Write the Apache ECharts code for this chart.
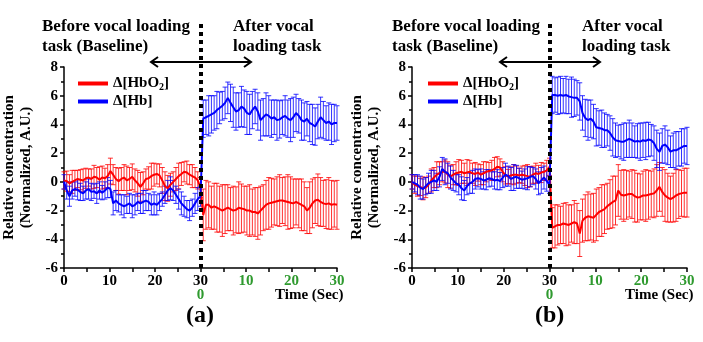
<!DOCTYPE html>
<html>
<head>
<meta charset="utf-8">
<script src="https://cdn.jsdelivr.net/npm/echarts@6/dist/echarts.min.js"></script>
<style>
  html, body { margin: 0; padding: 0; background: #ffffff; }
  #chart { width: 703px; height: 342px; }
</style>
</head>
<body>
<div id="chart"></div>
<script>
// Sampling step of the averaged NIRS traces (seconds); 101 samples span 0–60 s
const STEP = 0.6;

// Panel (a): mean relative concentration and standard error
const aHbO2 = [
  0.1, 0.05, -0.1, 0.0, 0.1, 0.2, 0.15, 0.1, 0.25, 0.3,
  0.2, 0.35, 0.3, 0.15, 0.3, 0.25, 0.4, 0.75, 0.5, 0.2,
  0.05, 0.2, 0.3, 0.1, 0.2, 0.35, 0.1, -0.1, -0.35, -0.1,
  0.2, 0.25, 0.4, 0.5, 0.55, 0.45, 0.1, -0.3, -0.45, -0.2,
  0.0, 0.2, 0.4, 0.55, 0.7, 0.65, 0.5, 0.4, 0.3, 0.1,
  -0.4,
  -2.3, -1.6, -1.6, -1.8, -1.7, -1.8, -1.9, -2.0, -1.9, -1.8,
  -1.9, -2.0, -1.95, -1.8, -1.85, -1.9, -2.0, -2.0, -2.1, -2.1,
  -2.2, -2.0, -1.8, -1.6, -1.5, -1.45, -1.4, -1.35, -1.3, -1.3,
  -1.35, -1.4, -1.45, -1.5, -1.4, -1.5, -1.6, -1.7, -2.0, -1.8,
  -1.5, -1.3, -1.25, -1.4, -1.5, -1.55, -1.5, -1.6, -1.55, -1.6];
const aHb = [
  0.0, -0.6, -1.0, -0.6, -0.5, -0.55, -0.7, -0.8, -0.6, -0.5,
  -0.7, -0.65, -0.8, -0.6, -0.75, -0.6, -0.4, -0.5, -1.5, -1.3,
  -1.5, -1.6, -1.7, -1.6, -1.5, -1.7, -1.6, -1.4, -1.5, -1.4,
  -1.3, -1.4, -1.6, -1.5, -1.6, -1.4, -1.2, -0.9, -0.6, -0.45,
  -0.6, -0.9, -1.2, -1.5, -1.7, -1.9, -2.0, -1.8, -1.5, -1.2,
  -1.0,
  4.4, 4.5, 4.6, 4.7, 4.8, 5.0, 5.15, 5.3, 5.5, 5.85,
  5.5, 5.2, 4.9, 5.0, 5.25, 5.1, 4.8, 4.7, 5.0, 5.25,
  4.9, 4.3, 4.5, 4.7, 4.6, 4.4, 4.5, 4.3, 4.35, 4.5,
  4.6, 4.4, 4.3, 4.5, 4.8, 4.6, 4.3, 4.2, 4.4, 4.1,
  4.0, 3.85, 4.2, 4.5, 4.3, 4.1, 4.2, 4.0, 4.1, 4.1];
const aHbO2Err = [
  0.6, 0.7, 0.6, 0.8, 0.7, 0.6, 0.7, 0.8, 0.7, 0.6,
  0.7, 0.8, 0.7, 0.9, 0.8, 0.7, 0.8, 0.9, 0.7, 0.8,
  0.9, 0.8, 0.9, 1.0, 0.8, 0.9, 0.8, 0.9, 1.0, 0.8,
  0.7, 0.8, 0.9, 0.8, 0.7, 0.8, 0.9, 1.0, 0.9, 0.8,
  0.7, 0.8, 0.9, 0.8, 0.7, 0.8, 0.7, 0.8, 0.7, 0.6,
  0.7,
  1.8, 1.7, 1.6, 1.5, 1.6, 1.7, 1.6, 1.8, 1.7, 1.6,
  1.5, 1.7, 1.6, 1.8, 1.7, 1.6, 1.7, 1.8, 1.6, 1.7,
  1.8, 1.7, 1.6, 1.7, 1.8, 1.7, 1.6, 1.7, 1.8, 1.6,
  1.7, 1.9, 1.8, 1.7, 1.6, 1.7, 1.8, 1.7, 1.6, 1.8,
  1.7, 1.6, 1.8, 1.7, 1.6, 1.7, 1.8, 1.7, 1.6, 1.7];
const aHbErr = [
  0.5, 0.6, 0.7, 0.6, 0.5, 0.7, 0.6, 0.5, 0.6, 0.7,
  0.6, 0.5, 0.7, 0.6, 0.5, 0.6, 0.7, 0.6, 0.8, 0.7,
  0.6, 0.7, 0.8, 0.6, 0.7, 0.8, 0.7, 0.6, 0.7, 0.8,
  0.7, 0.6, 0.7, 0.8, 0.7, 0.6, 0.5, 0.6, 0.7, 0.8,
  0.7, 0.6, 0.7, 0.8, 0.7, 0.6, 0.7, 0.6, 0.7, 0.8,
  0.7,
  1.3, 1.2, 1.4, 1.3, 1.2, 1.3, 1.1, 1.0, 1.1, 1.1,
  1.3, 1.4, 1.3, 1.2, 1.4, 1.3, 1.5, 1.4, 1.3, 1.2,
  1.3, 1.4, 1.3, 1.5, 1.4, 1.3, 1.2, 1.4, 1.3, 1.2,
  1.4, 1.3, 1.5, 1.4, 1.3, 1.2, 1.4, 1.3, 1.2, 1.3,
  1.4, 1.3, 1.2, 1.4, 1.3, 1.2, 1.3, 1.4, 1.3, 1.2];

// Panel (b)
const bHbO2 = [
  0.0, -0.2, -0.3, -0.35, -0.45, -0.4, -0.2, 0.1, 0.3, 0.5,
  0.6, 0.7, 0.72, 0.5, 0.37, 0.5, 0.6, 0.65, 0.7, 0.6,
  0.65, 0.7, 0.6, 0.55, 0.65, 0.5, 0.6, 0.7, 0.75, 0.8,
  0.9, 1.05, 1.0, 0.7, 0.45, 0.37, 0.45, 0.5, 0.5, 0.45,
  0.5, 0.45, 0.4, 0.37, 0.5, 0.6, 0.55, 0.65, 0.7, 0.8,
  1.05,
  -3.2, -3.1, -3.0, -3.0, -2.9, -2.95, -3.0, -2.9, -2.8, -2.9,
  -3.6, -2.7, -2.5, -2.4, -2.45, -2.5, -2.3, -2.1, -2.0, -1.9,
  -1.7, -1.55, -1.4, -1.3, -0.6, -0.9, -0.95, -0.9, -0.85, -0.85,
  -1.0, -1.1, -1.05, -0.95, -0.95, -0.9, -0.85, -0.8, -0.6, -0.35,
  -0.7, -0.95, -1.1, -1.2, -1.1, -0.95, -0.85, -0.8, -0.75, -0.75];
const bHb = [
  0.0, -0.1, -0.2, -0.4, -0.5, -0.3, -0.1, 0.0, 0.1, 0.0,
  0.35, 0.9, 0.7, 0.6, 0.3, 0.1, -0.1, -0.2, -0.45, -0.6,
  -0.3, -0.1, 0.0, 0.2, 0.25, 0.2, 0.1, 0.15, 0.25, 0.2,
  0.1, 0.15, 0.05, 0.3, 0.5, 0.4, 0.2, 0.3, 0.35, 0.25,
  0.15, 0.2, 0.25, 0.35, 0.4, 0.2, -0.1, 0.1, 0.3, 0.05,
  -0.2,
  6.05, 6.05, 6.0, 6.05, 6.0, 6.05, 5.95, 5.9, 5.85, 5.85,
  5.6, 4.8, 4.45, 4.3, 4.4, 4.2, 3.8, 3.75, 3.7, 3.6,
  3.6, 3.4, 3.1, 2.9, 2.85, 2.8, 2.8, 2.9, 3.0, 2.9,
  2.8, 2.85, 2.8, 2.9, 2.85, 2.95, 2.9, 2.7, 2.3, 2.1,
  2.5, 2.6, 2.4, 2.1, 2.2, 2.2, 2.3, 2.4, 2.5, 2.5];
const bHbO2Err = [
  0.5, 0.6, 0.7, 0.6, 0.8, 0.7, 0.6, 0.8, 0.7, 0.9,
  0.8, 0.7, 0.8, 0.9, 0.8, 0.7, 0.8, 0.9, 0.8, 0.7,
  0.9, 0.8, 0.7, 0.8, 0.6, 0.7, 0.8, 0.7, 0.6, 0.7,
  0.8, 0.7, 0.6, 0.7, 0.6, 0.5, 0.6, 0.7, 0.6, 0.5,
  0.6, 0.7, 0.8, 0.7, 0.6, 0.7, 0.6, 0.7, 0.6, 0.7,
  0.6,
  1.4, 1.5, 1.4, 1.3, 1.4, 1.5, 1.4, 1.3, 1.5, 1.4,
  1.6, 1.5, 1.6, 1.7, 1.6, 1.7, 1.8, 1.7, 1.8, 1.7,
  1.6, 1.7, 1.8, 1.7, 1.8, 1.7, 1.8, 1.7, 1.6, 1.7,
  1.8, 1.7, 1.6, 1.7, 1.8, 1.7, 1.6, 1.7, 1.8, 1.7,
  1.7, 1.8, 1.7, 1.6, 1.7, 1.8, 1.7, 1.6, 1.7, 1.7];
const bHbErr = [
  0.5, 0.6, 0.7, 0.8, 0.7, 0.6, 0.7, 0.8, 0.7, 0.6,
  0.7, 0.8, 0.9, 0.7, 0.8, 0.7, 0.6, 0.7, 0.8, 0.7,
  0.6, 0.7, 0.8, 0.7, 0.6, 0.7, 0.6, 0.7, 0.6, 0.5,
  0.6, 0.7, 0.6, 0.7, 0.8, 0.7, 0.8, 0.9, 0.8, 0.7,
  0.6, 0.7, 0.8, 0.7, 0.6, 0.7, 0.8, 0.9, 0.8, 0.7,
  0.6,
  1.3, 1.2, 1.3, 1.3, 1.2, 1.3, 1.2, 1.4, 1.3, 1.2,
  1.3, 1.2, 1.3, 1.4, 1.3, 1.2, 1.3, 1.2, 1.3, 1.2,
  1.1, 1.2, 1.3, 1.2, 1.1, 1.2, 1.3, 1.2, 1.3, 1.2,
  1.1, 1.2, 1.3, 1.2, 1.3, 1.2, 1.1, 1.2, 1.3, 1.3,
  1.2, 1.3, 1.2, 1.1, 1.2, 1.3, 1.2, 1.3, 1.2, 1.3];

// Axis tick labels: baseline seconds, then seconds after the task (green)
const baselineTicks = [0, 10, 20, 30];
const afterTicks = [10, 20, 30];
const TASK_ONSET = 30;

const NAME_O2 = 'Δ[HbO2]';
const NAME_HB = 'Δ[Hb]';
const RED = '#ff0000';
const BLUE = '#0000ff';
const GREEN = '#2f9a2f';
const FONT = '"Liberation Serif", "Times New Roman", serif';

const panels = [
  { hbo2: aHbO2, hb: aHb, hbo2Err: aHbO2Err, hbErr: aHbErr, left: 62, tag: '(a)' },
  { hbo2: bHbO2, hb: bHb, hbo2Err: bHbO2Err, hbErr: bHbErr, left: 412, tag: '(b)' }
];
const GRID_TOP = 67, GRID_H = 201, GRID_W = 275;

const pairs = (vals) => vals.map((v, i) => [i * STEP, v]);
const triples = (vals, errs) => vals.map((v, i) => [i * STEP, v, errs[i]]);

function errorBars(params, api) {
  const x = api.value(0), y = api.value(1), e = api.value(2);
  const top = api.coord([x, y + e]);
  const bot = api.coord([x, y - e]);
  const hw = 2.5;
  const style = { stroke: api.visual('color'), lineWidth: 1, opacity: 0.8 };
  return {
    type: 'group',
    children: [
      { type: 'line', shape: { x1: top[0], y1: top[1], x2: bot[0], y2: bot[1] }, style },
      { type: 'line', shape: { x1: top[0] - hw, y1: top[1], x2: top[0] + hw, y2: top[1] }, style },
      { type: 'line', shape: { x1: bot[0] - hw, y1: bot[1], x2: bot[0] + hw, y2: bot[1] }, style }
    ]
  };
}

const labelStyle = { fontFamily: FONT, fontWeight: 'bold', fontSize: 15, color: '#000' };

const option = {
  animation: false,
  backgroundColor: '#ffffff',
  grid: panels.map(p => ({ left: p.left, top: GRID_TOP, width: GRID_W, height: GRID_H, containLabel: false })),
  legend: panels.map(p => ({
    data: [NAME_O2, NAME_HB],
    orient: 'vertical',
    left: p.left + 16,
    top: 75,
    padding: 0,
    itemWidth: 30,
    itemHeight: 4,
    itemGap: 1,
    icon: 'rect',
    selectedMode: false,
    textStyle: {
      fontFamily: FONT, fontWeight: 'bold', fontSize: 15, color: '#000', lineHeight: 17,
      rich: { sub: { fontFamily: FONT, fontWeight: 'bold', fontSize: 10, lineHeight: 17, verticalAlign: 'bottom' } }
    },
    formatter: n => n === NAME_O2 ? 'Δ[HbO{sub|2}]' : n
  })),
  xAxis: panels.map((p, k) => ({
    type: 'value', gridIndex: k, min: 0, max: 60, interval: 10,
    axisLine: { onZero: false, lineStyle: { color: '#000', width: 1.5 } },
    axisTick: { show: true, length: 4, lineStyle: { color: '#000', width: 1.5 } },
    minorTick: { show: true, splitNumber: 2, length: 4, lineStyle: { color: '#000', width: 1.5 } },
    splitLine: { show: false },
    axisLabel: {
      ...labelStyle, margin: 6, lineHeight: 14,
      rich: { g: { ...labelStyle, color: GREEN, lineHeight: 14 }, k: { ...labelStyle, lineHeight: 14 } },
      formatter: v => {
        if (v === TASK_ONSET) return '{k|' + baselineTicks[3] + '}\n{g|0}';
        if (v < TASK_ONSET) return '{k|' + baselineTicks[v / 10] + '}';
        return '{g|' + afterTicks[(v - TASK_ONSET) / 10 - 1] + '}';
      }
    }
  })),
  yAxis: panels.map((p, k) => ({
    type: 'value', gridIndex: k, min: -6, max: 8, interval: 2,
    axisLine: { show: true, onZero: false, lineStyle: { color: '#000', width: 1.5 } },
    axisTick: { show: true, length: 4, lineStyle: { color: '#000', width: 1.5 } },
    minorTick: { show: true, splitNumber: 2, length: 3, lineStyle: { color: '#000', width: 1.5 } },
    splitLine: { show: false },
    axisLabel: { ...labelStyle, margin: 6 },
    name: 'Relative concentration\n(Normalized, A.U.)',
    nameLocation: 'middle',
    nameRotate: 90,
    nameGap: 29,
    nameTextStyle: { fontFamily: FONT, fontWeight: 'bold', fontSize: 15, color: '#000', lineHeight: 17 }
  })),
  series: []
};

panels.forEach((p, k) => {
  option.series.push(
    { type: 'custom', name: NAME_O2, xAxisIndex: k, yAxisIndex: k, color: RED, renderItem: errorBars,
      encode: { x: 0, y: 1 }, data: triples(p.hbo2, p.hbo2Err), z: 2 },
    { type: 'custom', name: NAME_HB, xAxisIndex: k, yAxisIndex: k, color: BLUE, renderItem: errorBars,
      encode: { x: 0, y: 1 }, data: triples(p.hb, p.hbErr), z: 2 },
    { type: 'line', name: NAME_O2, xAxisIndex: k, yAxisIndex: k, color: RED, showSymbol: false, symbol: 'none',
      lineStyle: { width: 2, color: RED }, data: pairs(p.hbo2), z: 3 },
    { type: 'line', name: NAME_HB, xAxisIndex: k, yAxisIndex: k, color: BLUE, showSymbol: false, symbol: 'none',
      lineStyle: { width: 2, color: BLUE }, data: pairs(p.hb), z: 3 }
  );
});

const chart = echarts.init(document.getElementById('chart'), null, { renderer: 'canvas' });
chart.setOption(option);

// Annotations placed from the axis scales: task-onset divider, phase arrow and captions
const graphics = [];
panels.forEach((p, k) => {
  const onset = chart.convertToPixel({ gridIndex: k }, [TASK_ONSET, -6]);
  const xEnd = chart.convertToPixel({ gridIndex: k }, [60, -6]);
  const ox = Math.round(onset[0]);
  const oy = onset[1];
  // dotted divider at task onset
  graphics.push({ type: 'line', z: 100, shape: { x1: ox, y1: 24, x2: ox, y2: oy },
    style: { stroke: '#000', lineWidth: 4, lineDash: [4, 4] } });
  // double-headed arrow between the two phases
  const ay = 62, half = 50, head = 7;
  graphics.push({ type: 'line', z: 100, shape: { x1: ox - half, y1: ay, x2: ox + half, y2: ay }, style: { stroke: '#000', lineWidth: 2 } });
  graphics.push({ type: 'polyline', z: 100, shape: { points: [[ox - half + head, ay - 5], [ox - half, ay], [ox - half + head, ay + 5]] }, style: { stroke: '#000', lineWidth: 2, fill: null } });
  graphics.push({ type: 'polyline', z: 100, shape: { points: [[ox + half - head, ay - 5], [ox + half, ay], [ox + half - head, ay + 5]] }, style: { stroke: '#000', lineWidth: 2, fill: null } });
  const capStyle = { fontFamily: FONT, fontWeight: 'bold', fontSize: 17, fill: '#000' };
  graphics.push({ type: 'text', z: 100, left: p.left - 20, top: 17, style: { ...capStyle, text: 'Before vocal loading\ntask (Baseline)', lineHeight: 20 } });
  graphics.push({ type: 'text', z: 100, left: ox + 32, top: 17, style: { ...capStyle, text: 'After vocal\nloading task', lineHeight: 20 } });
  graphics.push({ type: 'text', z: 100, left: xEnd[0] - 62, top: 288, style: { fontFamily: FONT, fontWeight: 'bold', fontSize: 15, fill: '#000', text: 'Time (Sec)' } });
  graphics.push({ type: 'text', z: 100, left: ox - 15, top: 304, style: { fontFamily: FONT, fontWeight: 'bold', fontSize: 24, fill: '#000', text: p.tag } });
});
chart.setOption({ graphic: graphics });
</script>
</body>
</html>
